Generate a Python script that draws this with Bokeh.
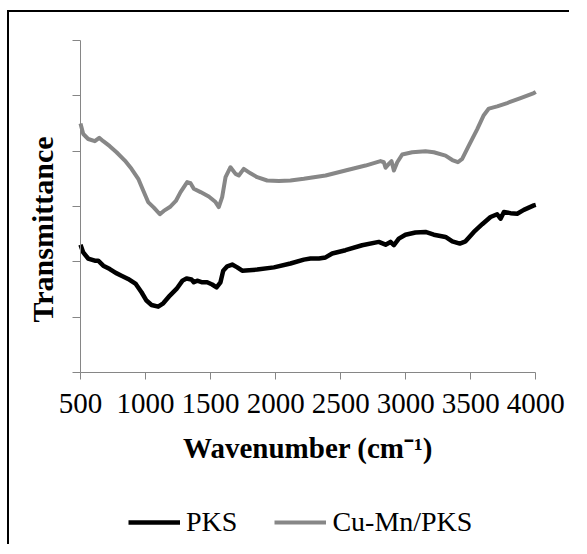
import math
from bokeh.plotting import figure
from bokeh.models import FixedTicker, Legend, LegendItem, Label, Range1d
from bokeh.embed import file_html
from bokeh.resources import INLINE

# ---------------- data ----------------
pks_x = [500, 521, 559, 610, 636, 675, 725, 771, 815, 866, 925, 969, 1007, 1046, 1097,
         1136, 1187, 1238, 1284, 1315, 1353, 1371, 1397, 1436, 1474, 1512, 1546, 1576,
         1597, 1628, 1666, 1705, 1743, 1858, 1987, 2114, 2217, 2268, 2333, 2384, 2435,
         2537, 2665, 2793, 2845, 2883, 2909, 2947, 2998, 3075, 3152, 3216, 3306, 3358,
         3416, 3460, 3524, 3588, 3652, 3703, 3729, 3755, 3806, 3857, 3908, 3985, 4000]
pks_y = [2.31, 2.17, 2.06, 2.02, 2.02, 1.93, 1.87, 1.80, 1.75, 1.69, 1.60, 1.45, 1.30, 1.22, 1.19,
         1.25, 1.39, 1.51, 1.66, 1.70, 1.68, 1.63, 1.66, 1.63, 1.63, 1.59, 1.54, 1.63,
         1.84, 1.92, 1.95, 1.90, 1.84, 1.86, 1.90, 1.97, 2.04, 2.06, 2.06, 2.08, 2.15,
         2.21, 2.30, 2.36, 2.31, 2.36, 2.30, 2.42, 2.49, 2.53, 2.54, 2.49, 2.45, 2.37,
         2.33, 2.37, 2.54, 2.68, 2.81, 2.86, 2.78, 2.90, 2.88, 2.87, 2.94, 3.02, 3.03]

cumn_x = [500, 521, 559, 610, 644, 675, 725, 777, 841, 892, 944, 982, 1020, 1064, 1110,
          1140, 1187, 1233, 1269, 1320, 1346, 1371, 1423, 1486, 1538, 1563, 1589, 1615,
          1653, 1692, 1717, 1755, 1807, 1858, 1935, 2025, 2114, 2217, 2268, 2384, 2537,
          2691, 2806, 2832, 2845, 2870, 2891, 2909, 2935, 2973, 3050, 3152, 3216, 3306,
          3358, 3401, 3434, 3485, 3550, 3600, 3639, 3703, 3780, 3883, 3985, 4000]
cumn_y = [4.50, 4.31, 4.22, 4.18, 4.24, 4.18, 4.09, 3.98, 3.83, 3.68, 3.50, 3.29, 3.08, 2.98, 2.86,
          2.92, 2.99, 3.10, 3.26, 3.44, 3.42, 3.32, 3.26, 3.18, 3.08, 2.99, 3.17, 3.53,
          3.71, 3.59, 3.56, 3.68, 3.60, 3.53, 3.47, 3.46, 3.47, 3.50, 3.52, 3.56, 3.65,
          3.74, 3.82, 3.80, 3.70, 3.77, 3.82, 3.65, 3.80, 3.94, 3.98, 4.00, 3.98, 3.92,
          3.84, 3.80, 3.86, 4.10, 4.40, 4.65, 4.77, 4.81, 4.87, 4.96, 5.05, 5.07]

series_names = ["PKS", "Cu-Mn/PKS"]
x_ticks = [500, 1000, 1500, 2000, 2500, 3000, 3500, 4000]
y_ticks = [0, 1, 2, 3, 4, 5, 6]
x_title = "Wavenumber (cm\u207b\u00b9)"
y_title = "Transmittance"

FONT = "Liberation Serif"
AXIS_GRAY = "#868686"

# The frame fills the whole canvas (page x 9..571, y 12..546); the plotted
# region 500..4000 x 0..6 sits at page x 80..535, y 40..372.
PX_X = (535.3 - 80) / 3500.0
PX_Y = (372 - 40) / 6.0
X_START = 500 - (80 - 9) / PX_X
X_END = 4000 + (571 - 535.3) / PX_X
Y_START = -(546 - 372) / PX_Y
Y_END = 6 + (40 - 12) / PX_Y

p = figure(width=562, height=534, output_backend="svg", toolbar_location=None,
           x_range=Range1d(X_START, X_END), y_range=Range1d(Y_START, Y_END),
           min_border=0,
           styles={"border-left": "2px solid black", "border-top": "2px solid black",
                   "margin-left": "7px", "margin-top": "10px"})
p.outline_line_color = None
p.xgrid.visible = False
p.ygrid.visible = False
p.background_fill_color = "white"
p.border_fill_color = "white"

r1 = p.line(pks_x, pks_y, line_color="black", line_width=4.5, line_join="round")
r2 = p.line(cumn_x, cumn_y, line_color="#878787", line_width=4, line_join="round")

xa = p.xaxis[0]
xa.fixed_location = 0
xa.bounds = (500, 4000)
xa.ticker = FixedTicker(ticks=x_ticks)
xa.axis_line_color = AXIS_GRAY
xa.major_tick_line_color = AXIS_GRAY
xa.major_tick_out = 7
xa.major_tick_in = 0
xa.minor_tick_line_color = None
xa.major_label_text_font = FONT
xa.major_label_text_font_size = "29px"
xa.major_label_text_color = "black"
xa.major_label_standoff = 14
xa.axis_label = x_title
xa.axis_label_text_font = FONT
xa.axis_label_text_font_size = "29px"
xa.axis_label_text_font_style = "bold"
xa.axis_label_text_color = "black"
xa.axis_label_standoff = 16

ya = p.yaxis[0]
ya.fixed_location = 500
ya.bounds = (0, 6)
ya.ticker = FixedTicker(ticks=y_ticks)
ya.axis_line_color = AXIS_GRAY
ya.major_tick_line_color = AXIS_GRAY
ya.major_tick_out = 8
ya.major_tick_in = 0
ya.minor_tick_line_color = None
ya.major_label_text_color = None
ya.major_label_standoff = 0

# y-axis title, placed left of the axis, slightly below the plot's middle
ytitle = Label(x=500 - (80 - 42) / PX_X, y=(372 - 229) / PX_Y, text=y_title,
               angle=math.pi / 2, text_align="center", text_baseline="middle",
               text_font=FONT, text_font_size="30px", text_font_style="bold",
               text_color="black")
p.add_layout(ytitle)

legend = Legend(items=[LegendItem(label=series_names[0], renderers=[r1]),
                       LegendItem(label=series_names[1], renderers=[r2])],
                orientation="horizontal", location=(119, 8),
                glyph_width=52, label_standoff=6, spacing=37,
                label_text_font=FONT, label_text_font_size="28px",
                label_text_color="black",
                border_line_color=None, background_fill_alpha=0,
                padding=0, margin=0)
p.add_layout(legend)

open("out.html", "w").write(file_html(p, INLINE))
